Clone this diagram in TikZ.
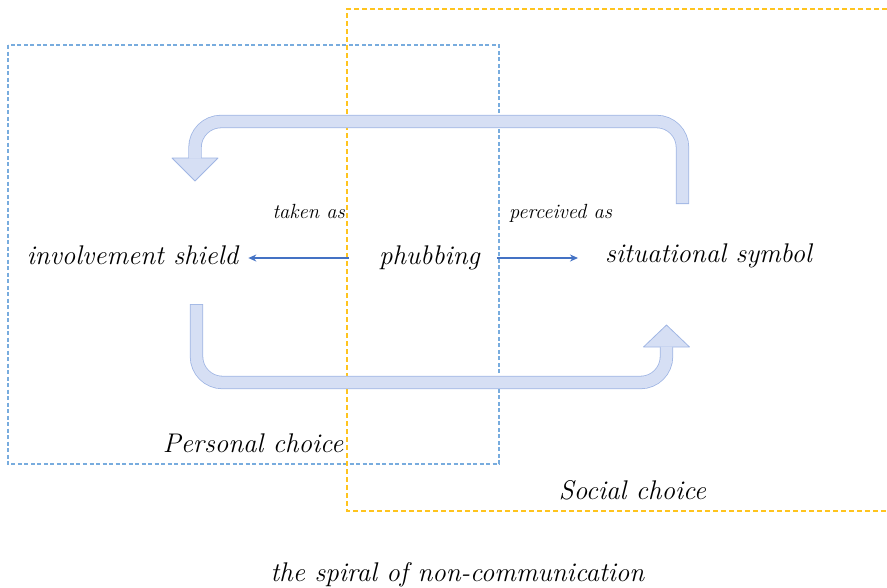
\documentclass[tikz,border=0pt]{standalone}
\usetikzlibrary{arrows.meta,positioning}
\definecolor{shaftfill}{RGB}{214,223,244}
\definecolor{shaftline}{RGB}{160,182,228}
\definecolor{linkblue}{RGB}{68,114,196}
\definecolor{persblue}{RGB}{120,172,222}
\definecolor{socgold}{RGB}{255,196,30}
\begin{document}
\begin{tikzpicture}[x=1pt,y=-1pt,
    lab/.style={font=\fontsize{27}{30}\selectfont\itshape,inner sep=0pt,anchor=base},
    small/.style={font=\fontsize{20.5}{23}\selectfont\itshape,inner sep=0pt},
    link/.style={linkblue,line width=1.4pt,-{Stealth[length=8pt,width=7pt]}},
    shaftout/.style={shaftline,line width=13.3pt,rounded corners=26pt},
    shaftin/.style={shaftfill,line width=11.7pt,rounded corners=26pt},
    head/.style={fill=shaftfill,draw=shaftline,line width=0.8pt,line join=round}]
  \useasboundingbox (0,0) rectangle (887,587);
  % the two frames
  \draw[persblue,line width=1.5pt,dash pattern=on 4pt off 2.5pt] (8,45) rectangle (499,464);
  \draw[socgold,line width=1.5pt,dash pattern=on 5pt off 3pt] (887,9) -- (347,9) -- (347,511) -- (887,511);
  % bent arrows: tail, middle level, head column, head base, tip
  \foreach \xa/\ya/\ym/\xb/\yh/\yt in {682.5/204/121.5/195/158/181, 196.5/304/382.5/666.5/347/325}{
    \draw[shaftout] (\xa,\ya) -- (\xa,\ym) -- (\xb,\ym) -- (\xb,\yh);
    \draw[head] (\xb-23,\yh) -- (\xb,\yt) -- (\xb+23,\yh) -- cycle;
    \draw[shaftin,shorten <=0.8pt,shorten >=-0.5pt] (\xa,\ya) -- (\xa,\ym) -- (\xb,\ym) -- (\xb,\yh);
  }
  \node[lab] (phub) at (429.5,264) {phubbing};
  \node[lab] (shield) at (132.5,264) {involvement shield};
  \node[lab] (sym) at (708.5,262) {situational symbol};
  \coordinate (lvl) at (0,258);
  \draw[link,shorten <=30pt,shorten >=10pt] (phub.west |- lvl) -- (shield.east |- lvl);
  \draw[link,shorten <=17pt,shorten >=27pt] (phub.east |- lvl) -- (sym.west |- lvl);
  \node[small,anchor=base east] (taken) at (345,218) {taken as};
  \node[small,anchor=base west] (perc) at (509,218) {perceived as};
  \node[lab] (pers) at (253,452) {Personal choice};
  \node[lab] (soc) at (632.5,499) {Social choice};
  \node[lab] (spiral) at (457.5,581) {the spiral of non-communication};
\end{tikzpicture}
\end{document}
